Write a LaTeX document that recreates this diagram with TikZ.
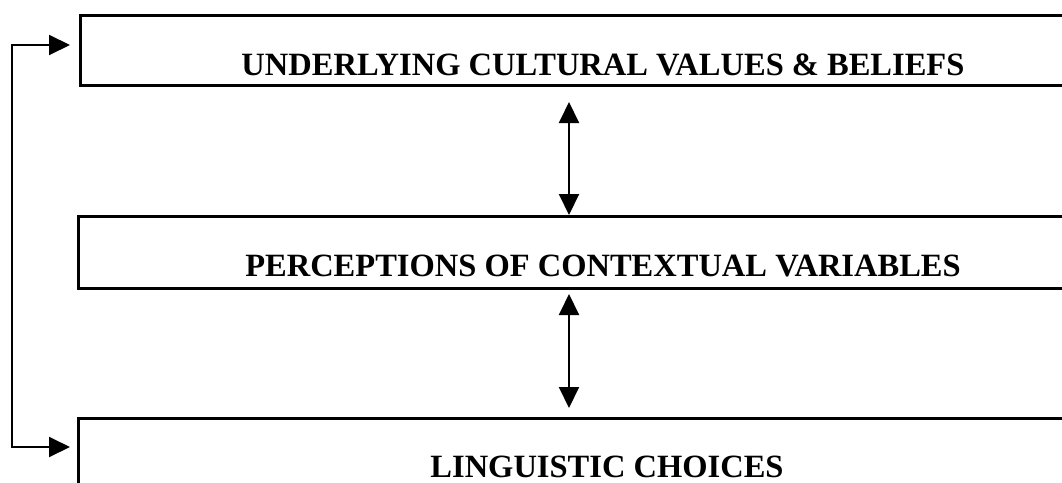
\documentclass[tikz,border=0pt]{standalone}
\usepackage{fontspec}
\setmainfont{Liberation Serif}
\usetikzlibrary{arrows.meta}
\begin{document}
\begin{tikzpicture}[x=1pt,y=-1pt,
  boxshape/.style={draw, line width=3pt, rectangle, inner sep=0pt, anchor=north west},
  lbl/.style={anchor=base, inner sep=0pt, font=\fontsize{32.5}{38}\selectfont\bfseries},
  conn/.style={line width=2pt, {Triangle[length=21pt,width=20pt]}-{Triangle[length=21pt,width=20pt]}}
]
\useasboundingbox (0,0) rectangle (1062,482);
\clip (0,0) rectangle (1062,482);
\node[boxshape, minimum width=1000pt, minimum height=70pt] (top) at (79,14) {};
\node[boxshape, minimum width=1000pt, minimum height=72pt] (mid) at (77,215) {};
\node[boxshape, minimum width=1000pt, minimum height=100pt] (bot) at (77,417) {};
\node[lbl] (toptext) at (603,75) {UNDERLYING CULTURAL VALUES \& BELIEFS};
\node[lbl] (midtext) at (603,276) {PERCEPTIONS OF CONTEXTUAL VARIABLES};
\node[lbl] (bottext) at (607,477) {LINGUISTIC CHOICES};
\coordinate (a1t) at (569,102);
\coordinate (a1b) at (569,215);
\coordinate (a2t) at (569,294);
\coordinate (a2b) at (569,408);
\draw[conn] (a1t) -- (a1b);
\draw[conn] (a2t) -- (a2b);
\coordinate (lt) at (70,45);
\coordinate (lb) at (70,447);
\coordinate (ltc) at (12,45);
\coordinate (lbc) at (12,447);
\draw[conn] (lt) -- (ltc) -- (lbc) -- (lb);
\end{tikzpicture}
\end{document}
